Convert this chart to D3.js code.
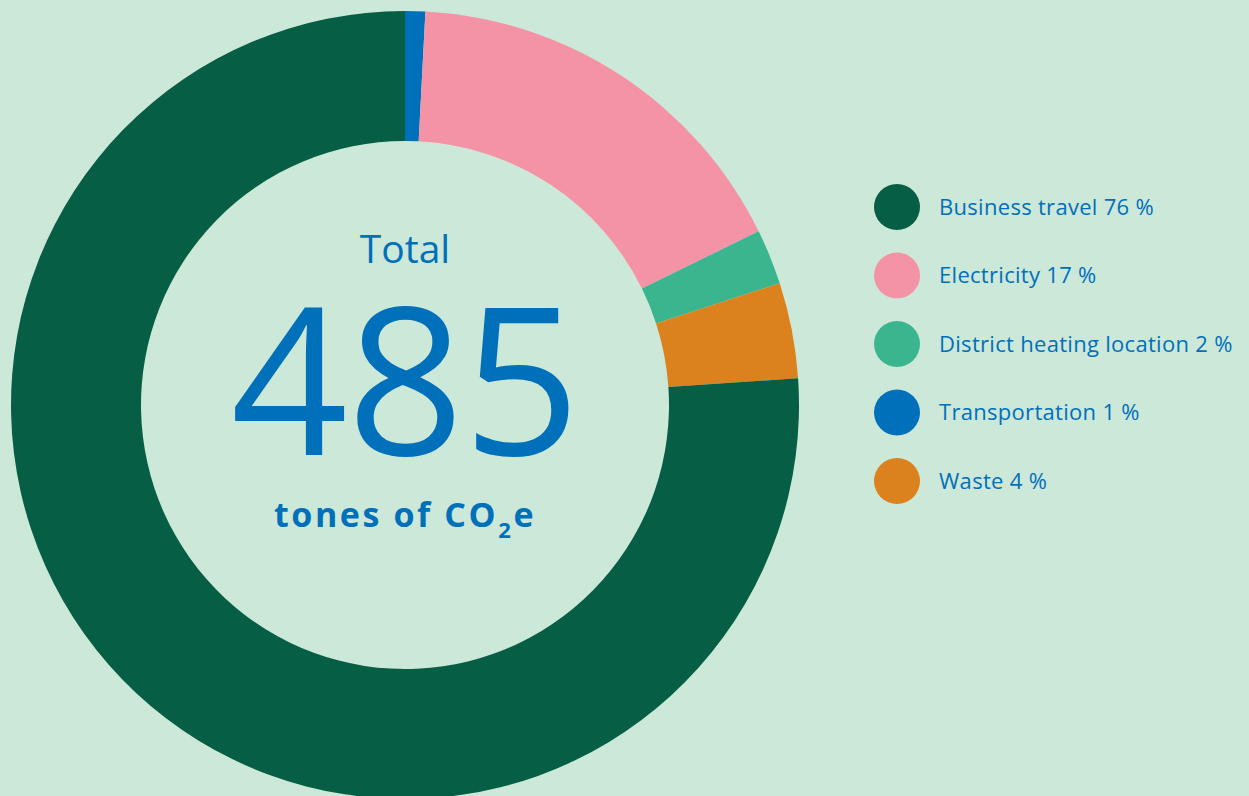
<!DOCTYPE html>
<html>
<head>
<meta charset="utf-8">
<script src="https://cdn.jsdelivr.net/npm/d3@7"></script>
<style>
  html, body { margin: 0; padding: 0; background: #cce8d9; }
  svg { display: block; }
  text { font-family: "Open Sans", "Noto Sans", sans-serif; }
</style>
</head>
<body>
<div id="chart"></div>
<script>
// Emissions by source (tones of CO2e), in drawing order clockwise from top
const categories = ["Transportation", "Electricity", "District heating location", "Waste", "Business travel"];
const values = [4, 82, 11, 19, 369];
const percents = [1, 17, 2, 4, 76];
const colors = ["#0070ba", "#f593a6", "#3bb58e", "#db821e", "#065e45"];

// legend order as shown
const legendOrder = ["Business travel", "Electricity", "District heating location", "Transportation", "Waste"];

const total = d3.sum(values);

const width = 1249, height = 796;
const cx = 405, cy = 405;
const outerR = 394, innerR = 264;

const svg = d3.select("#chart").append("svg")
    .attr("width", width)
    .attr("height", height);

svg.append("rect")
    .attr("width", width)
    .attr("height", height)
    .attr("fill", "#cce8d9");

const data = categories.map((c, i) => ({ name: c, value: values[i], pct: percents[i], color: colors[i] }));

const pie = d3.pie().sort(null).value(d => d.value);
const arc = d3.arc().innerRadius(innerR).outerRadius(outerR);

const g = svg.append("g").attr("transform", `translate(${cx},${cy})`);

g.selectAll("path")
    .data(pie(data))
    .enter()
    .append("path")
    .attr("d", arc)
    .attr("fill", d => d.data.color);

// center labels
g.append("text")
    .attr("x", 0)
    .attr("y", 263 - cy)
    .attr("text-anchor", "middle")
    .attr("fill", "#0070ba")
    .style("font-size", "39px")
    .style("font-weight", 400)
    .text("Total");

g.append("text")
    .attr("x", 0)
    .attr("y", 455 - cy)
    .attr("text-anchor", "middle")
    .attr("fill", "#0070ba")
    .style("font-size", "205px")
    .style("font-weight", 400)
    .style("letter-spacing", "-1px")
    .text(d3.format("d")(total));

const unit = g.append("text")
    .attr("x", 0)
    .attr("y", 527 - cy)
    .attr("text-anchor", "middle")
    .attr("fill", "#0070ba")
    .style("font-size", "34px")
    .style("font-weight", 700)
    .style("letter-spacing", "2.6px");
unit.append("tspan").text("tones of CO");
unit.append("tspan").attr("baseline-shift", "-50%").style("font-size", "22px").text("2");
unit.append("tspan").text("e");

// legend
const legendY = d3.scalePoint()
    .domain(legendOrder)
    .range([207, 481]);

const legend = svg.append("g");
const item = legend.selectAll("g")
    .data(legendOrder.map(n => data.find(d => d.name === n)))
    .enter()
    .append("g")
    .attr("transform", d => `translate(0,${legendY(d.name)})`);

item.append("circle")
    .attr("cx", 897)
    .attr("cy", 0)
    .attr("r", 23)
    .attr("fill", d => d.color);

item.append("text")
    .attr("x", 939)
    .attr("y", 0)
    .attr("dy", "0.35em")
    .attr("fill", "#0070ba")
    .style("font-size", "22px")
    .style("letter-spacing", "0.3px")
    .text(d => `${d.name} ${d.pct} %`);
</script>
</body>
</html>
